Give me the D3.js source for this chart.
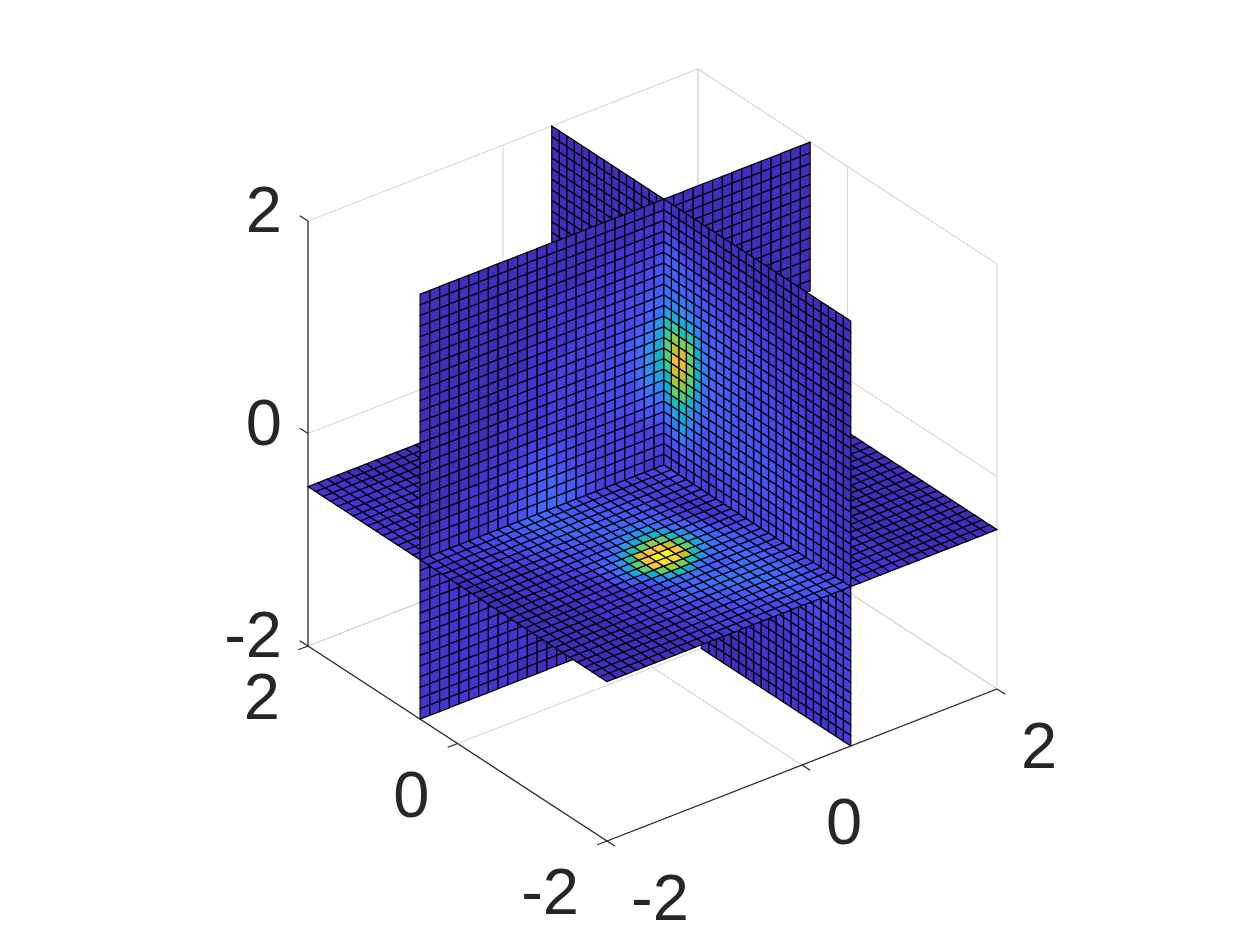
<!DOCTYPE html>
<html>
<head>
<meta charset="utf-8">
<script src="https://cdn.jsdelivr.net/npm/d3@7"></script>
<style>
  body { margin: 0; background: #fff; }
  text { font-family: "Liberation Sans", Helvetica, Arial, sans-serif; font-size: 65px; fill: #262626; }
</style>
</head>
<body>
<div id="chart"></div>
<script>
const xTicks = [-2, 0, 2];
const yTicks = [-2, 0, 2];
const zTicks = [-2, 0, 2];
const tickLabels = ["-2", "0", "2"];

// parula colormap, every 4th entry of the 64 colour table
const parulaAt = [0, 4, 8, 12, 16, 20, 24, 28, 32, 36, 40, 44, 48, 52, 56, 60, 63];
const parulaHex = ["#3e26a8", "#4537d5", "#484df0", "#4563fd", "#327bfc", "#2b91ee", "#20a5e2", "#08b5d0",
  "#19bfb6", "#37c897", "#63cd6f", "#9dc942", "#d1bf27", "#f8ba3d", "#fccf30", "#f5e924", "#f9fb14"];

// cell values, one base-36 digit per cell (0..z = 0..1)
// cells hidden behind another slice are left out, so some rows are short
// slice z=-0.5, row = x index, column = y index
const sliceZ = [
  "11111 11111 22233 33444 45554 33222 21111 11111",
  "11111 11112 22333 34445 55654 33222 21111 11111",
  "11111 11112 22333 44456 66654 33222 21111 11111",
  "11111 11112 23334 45566 67654 33222 21111 11111",
  "11111 11122 23344 55667 77754 33222 21111 11111",
  "11111 11122 33344 66778 87764 33222 21111 11111",
  "11111 11222 33455 67888 87764 33222 21111 11111",
  "11111 11222 33467 88988 87654 22222 21111 11111",
  "11111 12223 33456 77777 87654 22222 21111 11111",
  "11111 12222 33467 88766 77654 22222 21111 11111",
  "11111 12222 3359d hd976 77654 22222 21111 11111",
  "11111 12222 468fm pnic8 76654 22222 21111 11111",
  "11112 22223 58emu xwqhb 87654 22222 21111 11111",
  "11112 22223 57dmu zzume 96544 22222 21111 11111",
  "11112 22233 67bir uuqld 86433 22211 11111 11111",
  "11122 22334 568ci momhb 75333 22211 11111 11111",
  "11122 22334 5568c ehgc8 64323 22211 11111 11111",
  "11222 23344 45568 abb86 53223 22211 11111 11111",
  "11222 23344 55567 78876 43223 22211 11111 11111",
  "12222 33445 56667 77665 43233 22211 11111 11111",
  "12223 33455 66777 66655 43333",
  "22233 34456 67777 66554 43333",
  "22233 34456 77776 65544 33334",
  "22333 44556 77776 55443 33334",
  "23333 44566 77766 54433 33334",
  "22222 22222 222",
  "22222 22222 222",
  "22222 22222 222",
  "22222 22222 222",
  "22222 22222 222",
  "22222 22222 221",
  "22222 22222 211",
  "22222 22222 111",
  "22222 22221 111",
  "22222 22211 111",
  "22222 22111 111",
  "22222 21111 111",
  "22221 11111 111",
  "22211 11111 111",
  "22111 11111 111"
];

// slice x=0.5, row = z index from the bottom, column = y index
const sliceX = [
  "22222 22222 11111 11111",
  "22222 22222 11111 11111",
  "22222 22222 21111 11111",
  "22222 22222 21111 11111",
  "22222 22222 22111 11111",
  "22222 22222 22111 11111",
  "22222 22222 22211 11111",
  "22222 22222 22211 11111",
  "22222 22222 22221 11111",
  "22222 22222 22222 11111",
  "22222 22222 22222 21111",
  "22222 22222 22222 22111",
  "22222 22222 22222 22211",
  "22222 22222 22222 22222",
  "22222 22222 33333 22222",
  "12222 22334 56777 65433 33322",
  "12222 22334 56776 65433 33333",
  "11222 22233 45676 54333 33333",
  "11112 22233 45665 44333 33334",
  "11112 22233 45554 43333 33345",
  "11111 12223 34554 43333 33456",
  "11111 12222 33333 33334 44578",
  "11111 11222 22333 33334 4468a",
  "11111 11122 22233 33344 447ad",
  "11111 11122 22233 33344 457bf",
  "11111 11112 22233 33344 457bg",
  "11111 11112 22233 33344 457be 11111 11111 11111",
  "11111 11112 22223 33334 4579d 11111 11111 11111",
  "11111 11111 22223 33333 4468b 11111 11111 11111",
  "11111 11111 12222 33333 44568 11111 11111 11111",
  "11111 11111 12222 23333 34467 11111 11111 11111",
  "11111 11111 11222 22333 34456 11111 11111 11111",
  "11111 11111 11122 22223 33445 11111 11111 11111",
  "11111 11111 11122 22222 33345 11111 11111 11111",
  "11111 11111 11112 22222 23334 11111 11111 11111",
  "11111 11111 11111 11222 22233 11111 11111 11111",
  "11111 11111 11111 11112 22222 11111 11111 11111",
  "11111 11111 11111 11111 11222 11111 11111 11111",
  "11111 11111 11111 11111 11112 11111 11111 11111",
  "11111 11111 11111 11111 11111 11111 11111 11111"
];

// slice y=0.5, row = z index from the bottom, column = x index
const sliceY = [
  "32222 22222 21111 11111",
  "33222 22222 22111 11111",
  "33322 22222 22211 11111",
  "33332 22222 22221 11111",
  "33333 22222 22222 21111",
  "33333 33222 22222 22222",
  "33333 33322 22222 22222",
  "33333 33333 22222 22222",
  "33333 33333 32222 22222",
  "33334 33333 33222 22222",
  "33344 44333 33322 22222",
  "33344 44433 33332 22222",
  "33444 44443 33333 22222",
  "33444 44444 44333 32222",
  "33444 44444 44333 32222",
  "23333 44444 44444 44333 43333",
  "23333 44444 44444 44433 44433",
  "22333 44444 44445 44444 55654",
  "22333 44444 55555 55554 56975",
  "22233 34444 55555 55555 68c97",
  "22233 34444 55555 55555 7afc9",
  "22233 33444 55555 56666 8chhc",
  "22223 33444 45555 56667 ahlmf",
  "12223 33344 45555 56668 ckoph",
  "12222 33344 44555 56678 emqrk",
  "12222 33344 44555 66679 fnstm",
  "12222 33334 44445 56679 emrqm",
  "11222 23333 44445 56679 fmnok",
  "11222 23333 44445 55678 djiki",
  "11122 22333 34444 55666 aeeed 11111 11111 11111",
  "11122 22333 34444 45567 8aba9 11111 11111 11111",
  "11122 22233 33444 44556 68988 11111 11111 11111",
  "11112 22223 33344 44455 66777 11111 11111 11111",
  "11112 22222 33333 33444 55666 11111 11111 11111",
  "11111 12222 22333 33344 45666 11111 11111 11111",
  "11111 11222 22223 33333 34455 11111 11111 11111",
  "11111 11112 22222 22223 33344 11111 11111 11111",
  "11111 11111 11112 22222 22223 11111 11111 11111",
  "11111 11111 11111 11122 22222 11111 11111 11111",
  "11111 11111 11111 11111 11112 11111 11111 11111"
];

const width = 1260, height = 945;
const svg = d3.select("#chart").append("svg")
  .attr("width", width).attr("height", height);

// axonometric view, each data axis has its own pixel shift
const centerX = 652.5, centerY = 455;
const xToPx = d3.scaleLinear().domain([-2, 2]).range([149.5, -149.5]);
const xToPy = d3.scaleLinear().domain([-2, 2]).range([97.5, -97.5]);
const yToPx = d3.scaleLinear().domain([-2, 2]).range([-195, 195]);
const yToPy = d3.scaleLinear().domain([-2, 2]).range([76, -76]);
const zToPy = d3.scaleLinear().domain([-2, 2]).range([212.5, -212.5]);
const project = ([x, y, z]) => [centerX + xToPx(x) + yToPx(y), centerY + xToPy(x) + yToPy(y) + zToPy(z)];

const colorScale = d3.scaleLinear()
  .domain(parulaAt.map(d => d / 63))
  .range(parulaHex)
  .clamp(true);

const line3d = d3.line().x(d => project(d)[0]).y(d => project(d)[1]);
const cellPath = d3.line().x(d => project(d)[0]).y(d => project(d)[1]).curve(d3.curveLinearClosed);

// grid on the back walls and the floor
const gridSegments = [];
zTicks.forEach(z => gridSegments.push([[2, -2, z], [2, 2, z], [-2, 2, z]]));
yTicks.forEach(y => {
  gridSegments.push([[2, y, 2], [2, y, -2], [-2, y, -2]]);
});
xTicks.forEach(x => {
  gridSegments.push([[x, 2, 2], [x, 2, -2], [x, -2, -2]]);
});
svg.append("g").attr("name", "grid")
  .selectAll("path").data(gridSegments).join("path")
  .attr("d", line3d)
  .attr("fill", "none")
  .attr("stroke", "#d9d9d9")
  .attr("stroke-width", 1.2);

// dark rulers
const rulerSegments = [
  [[2, -2, -2], [2, -2, 2]],
  [[2, -2, -2], [-2, -2, -2]],
  [[-2, -2, -2], [-2, 2, -2]]
];
zTicks.forEach(z => rulerSegments.push([[2, -2, z], [2.11, -2, z]]));
xTicks.forEach(x => rulerSegments.push([[x, -2, -2], [x, -2.1, -2]]));
yTicks.forEach(y => rulerSegments.push([[-2, y, -2], [-2.11, y, -2]]));
svg.append("g").attr("name", "rulers")
  .selectAll("path").data(rulerSegments).join("path")
  .attr("d", line3d)
  .attr("fill", "none")
  .attr("stroke", "#262626")
  .attr("stroke-width", 1.2);

// slices, split by the cut lines and painted from the far corner to the near one
const cutX = 0.5, cutY = 0.5, cutZ = -0.5;
const gridStep = 0.1;
const coord = n => -2 + n * gridStep;
const sideScore = (value, cut, farIsAbove) => {
  if (Math.abs(value - cut) < 1e-6) return 1;
  return (value > cut) === farIsAbove ? 0 : 2;
};

const cells = [];
function addSlice(rows, toPoint) {
  rows.forEach((row, r) => {
    Array.from(row.replace(/ /g, "")).forEach((code, c) => {
      const corners = [[r, c], [r + 1, c], [r + 1, c + 1], [r, c + 1]].map(([a, b]) => toPoint(coord(a), coord(b)));
      const mid = [0, 1, 2].map(k => d3.mean(corners, d => d[k]));
      cells.push({
        corners,
        value: parseInt(code, 36) / 35,
        order: sideScore(mid[0], cutX, true) + sideScore(mid[1], cutY, true) + sideScore(mid[2], cutZ, false)
      });
    });
  });
}
addSlice(sliceZ, (x, y) => [x, y, cutZ]);
addSlice(sliceX, (z, y) => [cutX, y, z]);
addSlice(sliceY, (z, x) => [x, cutY, z]);

svg.append("g").attr("name", "slices")
  .selectAll("path").data(d3.sort(cells, d => d.order)).join("path")
  .attr("d", d => cellPath(d.corners))
  .attr("fill", d => colorScale(d.value))
  .attr("stroke", "#000")
  .attr("stroke-width", 1.2)
  .attr("stroke-linejoin", "miter");

// tick labels
const labels = svg.append("g").attr("name", "labels");
zTicks.forEach((z, i) => {
  const p = project([2, -2, z]);
  labels.append("text").attr("x", p[0] - 26).attr("y", p[1] + 11).attr("text-anchor", "end").text(tickLabels[i]);
});
xTicks.forEach((x, i) => {
  const p = project([x, -2, -2]);
  labels.append("text").attr("x", p[0] - 28).attr("y", p[1] + 73).attr("text-anchor", "end").text(tickLabels[i]);
});
yTicks.forEach((y, i) => {
  const p = project([-2, y, -2]);
  labels.append("text").attr("x", p[0] + 24).attr("y", p[1] + 79).attr("text-anchor", "start").text(tickLabels[i]);
});
</script>
</body>
</html>
